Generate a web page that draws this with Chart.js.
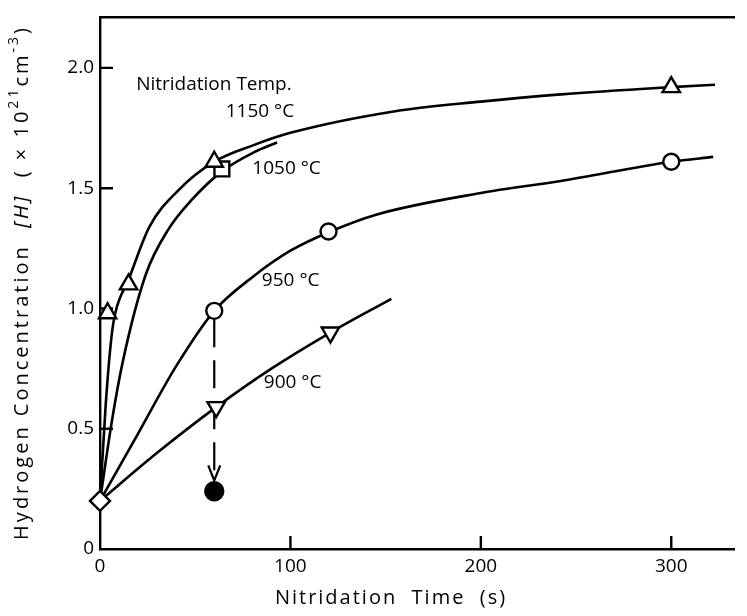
<!DOCTYPE html>
<html>
<head>
<meta charset="utf-8">
<script src="https://cdn.jsdelivr.net/npm/chart.js@4.4.1/dist/chart.umd.min.js"></script>
<style>
  html, body { margin: 0; padding: 0; background: #fff; }
  canvas { display: block; }
</style>
</head>
<body>
<canvas id="hChart" width="747" height="616"></canvas>
<script>
const FONT = '"Open Sans", "DejaVu Sans", sans-serif';
const INK = '#000';

// axes
const xTicks = [0, 100, 200, 300];
const yTicks = [0, 0.5, 1.0, 1.5, 2.0];
const yTickLabels = ['0', '0.5', '1.0', '1.5', '2.0'];

// measured points: nitridation time (s) vs [H] (x 10^21 cm^-3)
const startT = [0];
const startH = [0.2];
const t1150 = [4, 15, 60, 300];
const h1150 = [0.98, 1.10, 1.61, 1.92];
const t1050 = [64];
const h1050 = [1.58];
const t950 = [60, 120, 300];
const h950 = [0.99, 1.32, 1.61];
const t900 = [61, 121];
const h900 = [0.59, 0.90];
const annealT = [60];
const annealH = [0.24];

// hand-drawn trend curves
const c1150T = [0, 3, 6, 8, 15, 26, 41, 60, 81, 100, 155, 200, 242, 300, 323];
const c1150H = [0.2, 0.6, 0.88, 0.98, 1.12, 1.34, 1.49, 1.61, 1.68, 1.73, 1.82, 1.86, 1.89, 1.92, 1.93];
const c1050T = [0, 6, 12, 24, 36, 48, 64, 81, 93];
const c1050H = [0.2, 0.52, 0.78, 1.14, 1.33, 1.45, 1.57, 1.65, 1.69];
const c950T = [0, 20, 40, 60, 80, 100, 121, 145, 200, 242, 300, 322];
const c950H = [0.2, 0.48, 0.76, 0.99, 1.13, 1.24, 1.32, 1.39, 1.48, 1.53, 1.61, 1.63];
const c900T = [0, 30, 61, 90, 121, 153];
const c900H = [0.2, 0.40, 0.59, 0.75, 0.90, 1.04];

// dashed drop from the 950 point at 60 s to the annealed value
const dropT = [60, 60];
const dropH = [0.955, 0.285];

const pts = (xs, ys) => xs.map((x, i) => ({ x, y: ys[i] }));

const notes = [
  { text: 'Nitridation Temp.', x: 19, y: 1.93 },
  { text: '1150 °C', x: 66, y: 1.82 },
  { text: '1050 °C', x: 80, y: 1.58 },
  { text: '950 °C', x: 85, y: 1.115 },
  { text: '900 °C', x: 86, y: 0.69 }
];

function markers(data, style, radius, extra) {
  return Object.assign({
    data,
    showLine: false,
    pointStyle: style,
    pointRadius: radius,
    pointHoverRadius: radius,
    pointBorderWidth: 2.4,
    pointBorderColor: INK,
    pointBackgroundColor: '#fff',
    clip: false,
    order: 0
  }, extra || {});
}

function curve(data) {
  return {
    data,
    showLine: true,
    borderColor: INK,
    borderWidth: 2.6,
    pointRadius: 0,
    cubicInterpolationMode: 'monotone',
    clip: false,
    order: 1
  };
}

// draws runs of text one glyph at a time so the spacing can be widened
function spacedWidth(ctx, parts, gap) {
  let w = 0;
  parts.forEach(p => {
    ctx.font = p.f;
    for (const ch of p.t) w += ctx.measureText(ch).width + gap;
  });
  return w - gap;
}

function drawSpaced(ctx, parts, gap, startX) {
  let cx = startX;
  parts.forEach(p => {
    ctx.font = p.f;
    for (const ch of p.t) {
      ctx.fillText(ch, cx, p.dy || 0);
      cx += ctx.measureText(ch).width + gap;
    }
  });
}

const decor = {
  id: 'decor',
  beforeDatasetsDraw(chart) {
    const { ctx, scales: { x, y }, chartArea } = chart;
    ctx.save();
    ctx.strokeStyle = INK;
    ctx.lineWidth = 2.4;
    ctx.beginPath();
    yTicks.forEach(v => {
      if (v === 0) return;
      const py = y.getPixelForValue(v);
      ctx.moveTo(chartArea.left, py);
      ctx.lineTo(chartArea.left + 13, py);
    });
    xTicks.forEach(v => {
      if (v === 0) return;
      const px = x.getPixelForValue(v);
      ctx.moveTo(px, chartArea.bottom);
      ctx.lineTo(px, chartArea.bottom - 13);
    });
    ctx.stroke();

    // arrow head at the end of the dashed drop
    const ax = x.getPixelForValue(dropT[1]);
    const ay = y.getPixelForValue(dropH[1]);
    ctx.lineWidth = 2.2;
    ctx.beginPath();
    ctx.moveTo(ax - 6, ay - 15);
    ctx.lineTo(ax, ay);
    ctx.lineTo(ax + 6, ay - 15);
    ctx.stroke();
    ctx.restore();
  },
  afterDraw(chart) {
    const { ctx, scales: { x, y } } = chart;
    ctx.save();
    ctx.fillStyle = INK;
    ctx.font = '19px ' + FONT;
    ctx.textBaseline = 'middle';
    ctx.textAlign = 'left';
    notes.forEach(n => {
      ctx.fillText(n.text, x.getPixelForValue(n.x), y.getPixelForValue(n.y));
    });

    // x-axis title
    const xTitle = [{ t: 'Nitridation  Time  (s)', f: '20px ' + FONT }];
    const xw = spacedWidth(ctx, xTitle, 2);
    drawSpaced(ctx, [{ t: 'Nitridation  Time  (s)', f: '20px ' + FONT, dy: 598 }], 2, 390 - xw / 2);

    // rotated y-axis title with italic symbol and superscripts
    const parts = [
      { t: 'Hydrogen Concentration  ', f: '20px ' + FONT },
      { t: '[H]', f: 'italic 20px ' + FONT },
      { t: '  ( × 10', f: '20px ' + FONT },
      { t: '21', f: '14px ' + FONT, dy: -8 },
      { t: 'cm', f: '20px ' + FONT },
      { t: '-3', f: '14px ' + FONT, dy: -8 },
      { t: ')', f: '20px ' + FONT }
    ];
    const total = spacedWidth(ctx, parts, 3);
    ctx.translate(22, 284);
    ctx.rotate(-Math.PI / 2);
    drawSpaced(ctx, parts, 3, -total / 2);
    ctx.restore();
  }
};

new Chart(document.getElementById('hChart'), {
  type: 'scatter',
  data: {
    datasets: [
      markers(pts(startT, startH), 'rectRot', 10),
      markers(pts(t1150, h1150), 'triangle', 10),
      markers(pts(t1050, h1050), 'rect', 10.5),
      markers(pts(t950, h950), 'circle', 8),
      markers(pts(t900, h900), 'triangle', 10, { pointRotation: 180 }),
      markers(pts(annealT, annealH), 'circle', 9, { pointBackgroundColor: INK }),
      curve(pts(c1150T, c1150H)),
      curve(pts(c1050T, c1050H)),
      curve(pts(c950T, c950H)),
      curve(pts(c900T, c900H)),
      Object.assign(curve(pts(dropT, dropH)), { borderDash: [28, 13], borderWidth: 2.2, cubicInterpolationMode: 'default', tension: 0 })
    ]
  },
  options: {
    responsive: false,
    animation: false,
    layout: { padding: { top: 12, right: 0, left: 0, bottom: 0 } },
    plugins: { legend: { display: false }, tooltip: { enabled: false } },
    scales: {
      x: {
        type: 'linear',
        min: 0,
        max: 333,
        afterFit: s => { s.height = 67; },
        afterBuildTicks: s => { s.ticks = xTicks.map(v => ({ value: v })); },
        grid: { display: false, drawTicks: false },
        border: { display: true, color: INK, width: 2.4 },
        ticks: { color: INK, font: { family: FONT, size: 19 }, padding: 6, maxRotation: 0 },
        title: { display: false }
      },
      x2: {
        type: 'linear',
        position: 'top',
        min: 0,
        max: 333,
        afterFit: s => { s.height = 0; },
        grid: { display: false, drawTicks: false },
        border: { display: true, color: INK, width: 2.6 },
        ticks: { display: false }
      },
      y: {
        type: 'linear',
        min: 0,
        max: 2.21,
        afterFit: s => { s.width = 100; },
        afterBuildTicks: s => { s.ticks = yTicks.map(v => ({ value: v })); },
        grid: { display: false, drawTicks: false },
        border: { display: true, color: INK, width: 2.4 },
        ticks: {
          color: INK,
          font: { family: FONT, size: 19 },
          padding: 6,
          callback: (v) => yTickLabels[yTicks.indexOf(v)]
        }
      }
    }
  },
  plugins: [decor]
});
</script>
</body>
</html>
